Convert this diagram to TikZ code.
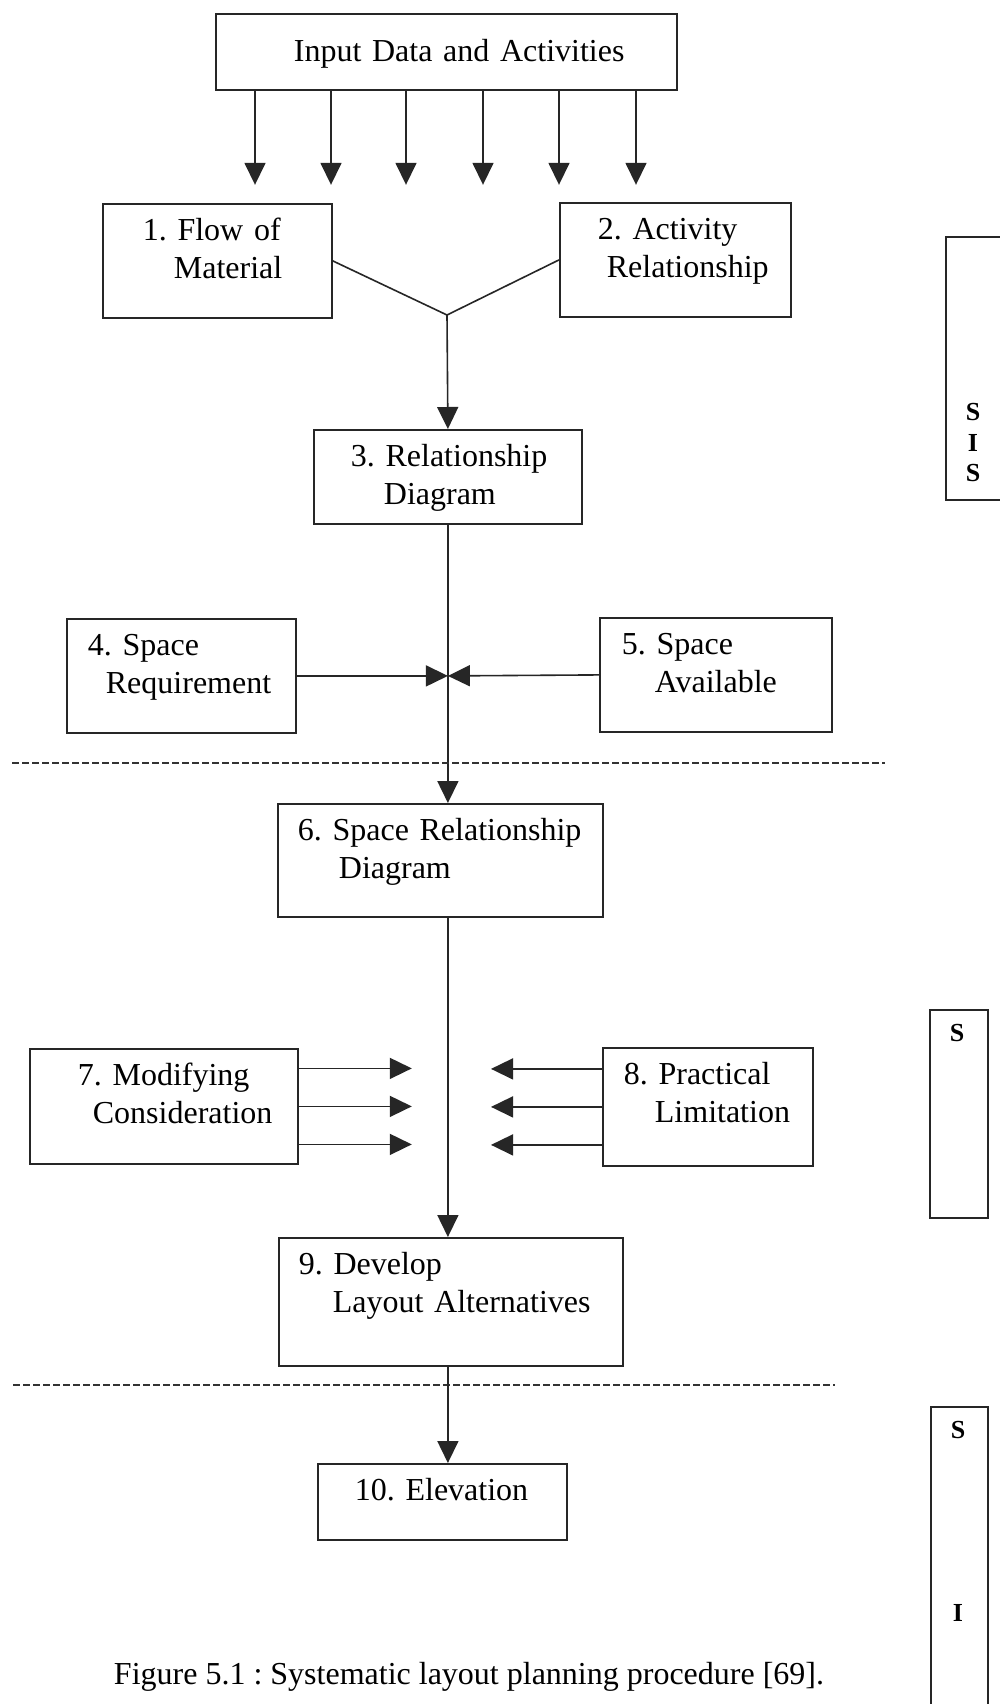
\documentclass[tikz,border=0pt]{standalone}
\usepackage{fontspec}
\setmainfont{Liberation Serif}
\usetikzlibrary{arrows.meta}
\tikzset{
  stepbox/.style={draw=black!85, line width=0.9pt, anchor=north west, align=left,
    inner xsep=0pt, inner ysep=0pt, text height=18.5pt},
  flowline/.style={draw=black!85, line width=0.8pt},
  flowarrow/.style={flowline, -{Triangle[length=11pt,width=10.5pt]}},
  sidebox/.style={draw=black!85, line width=0.9pt, anchor=north west, inner sep=0pt},
  sideletter/.style={font=\fontsize{13}{15.25}\selectfont\bfseries, align=center, inner sep=0pt},
  divider/.style={draw=black!80, line width=0.7pt, dash pattern=on 3.5pt off 1.5pt},
}

\begin{document}
\frenchspacing
\begin{tikzpicture}[x=0.5pt, y=-0.5pt, font=\fontsize{16}{19}\selectfont]
\path[use as bounding box, fill=white] (0,0) rectangle (1000,1704);

% input and the six feeds
\node[stepbox, text width=230.5pt, text height=24pt, text depth=14pt] (input) at (215,13) {\hspace*{39pt}Input Data and Activities};
\foreach \dx [count=\i] in {20,58,95.5,134,172,210.5} {
  \coordinate (feed\i) at ([xshift=\dx pt, yshift=-47pt]input.south west);
  \draw[flowarrow] ([xshift=\dx pt]input.south west) -- (feed\i);
}

% analysis
\node[stepbox, text width=114.5pt, text depth=38.5pt] (flow) at (102,203) {\hspace*{20pt}1. Flow of\\\hspace*{35.5pt}Material};
\node[stepbox, text width=115.5pt, text depth=38.5pt] (activity) at (559,202) {\hspace*{19pt}2. Activity\\\hspace*{23.5pt}Relationship};
\node[stepbox, text width=134pt, text depth=28.5pt] (reldiag) at (313,429) {\hspace*{18.5pt}3. Relationship\\\hspace*{35pt}Diagram};

\coordinate (junc) at (447,315);
\draw[flowline] (flow.east) -- (junc) -- (activity.west);
\draw[flowarrow] (junc) -- (reldiag.north);

% search
\node[stepbox, text width=114.5pt, text depth=38.5pt] (spacereq) at (66,618) {\hspace*{10.5pt}4. Space\\\hspace*{19.5pt}Requirement};
\node[stepbox, text width=116pt, text depth=38.5pt] (spaceav) at (599,617) {\hspace*{11pt}5. Space\\\hspace*{27.5pt}Available};
\node[stepbox, text width=162.5pt, text depth=38pt] (spacerel) at (277,803) {\hspace*{10pt}6. Space Relationship\\\hspace*{30.5pt}Diagram};

\coordinate (meet) at (reldiag.south |- spacereq.east);
\draw[flowarrow] (reldiag.south) -- (reldiag.south |- spacerel.north);
\draw[flowarrow] (spacereq.east) -- (meet);
\draw[flowarrow] (spaceav.west) -- (meet);

\draw[divider] (12,763) -- (885,763);

% selection
\node[stepbox, text width=134pt, text depth=39pt] (modify) at (29,1048) {\hspace*{24pt}7. Modifying\\\hspace*{31.5pt}Consideration};
\node[stepbox, text width=105pt, text depth=40.5pt] (practical) at (602,1047) {\hspace*{10.5pt}8. Practical\\\hspace*{26pt}Limitation};
\node[stepbox, text width=172pt, text depth=45.5pt] (develop) at (278,1237) {\hspace*{10pt}9. Develop\\\hspace*{27pt}Layout Alternatives};

\draw[flowarrow] (reldiag.south |- spacerel.south) -- (reldiag.south |- develop.north);
\foreach \dy [count=\i] in {19,0,-19} {
  \coordinate (modtip\i) at ([xshift=56.5pt, yshift=\dy pt]modify.east);
  \draw[flowarrow] ([yshift=\dy pt]modify.east) -- (modtip\i);
  \coordinate (practip\i) at ([xshift=-55.5pt, yshift=\dy pt]practical.west);
  \draw[flowarrow] ([yshift=\dy pt]practical.west) -- (practip\i);
}

\draw[divider] (13,1385) -- (835,1385);

\node[stepbox, text width=124.5pt, text depth=19.5pt] (elevation) at (317,1463) {\hspace*{18.5pt}10. Elevation};
\draw[flowarrow] (reldiag.south |- develop.south) -- (reldiag.south |- elevation.north);

% side bars
\node[sidebox, minimum width=35pt, minimum height=131.5pt] (sideA) at (945,236) {};
\node[sideletter] (sideAtext) at (973,443) {S\\I\\S};
\node[sidebox, minimum width=29pt, minimum height=104pt] (sideB) at (929,1009) {};
\node[sideletter] (sideBtext) at (957,1033) {S};
\node[sidebox, minimum width=28.5pt, minimum height=160pt] (sideC) at (930,1406) {};
\node[sideletter] (sideCs) at (958,1430) {S};
\node[sideletter] (sideCi) at (958,1613) {I};

\node (caption) at (469,1677) {Figure 5.1 : Systematic layout planning procedure [69].};

\end{tikzpicture}
\end{document}
